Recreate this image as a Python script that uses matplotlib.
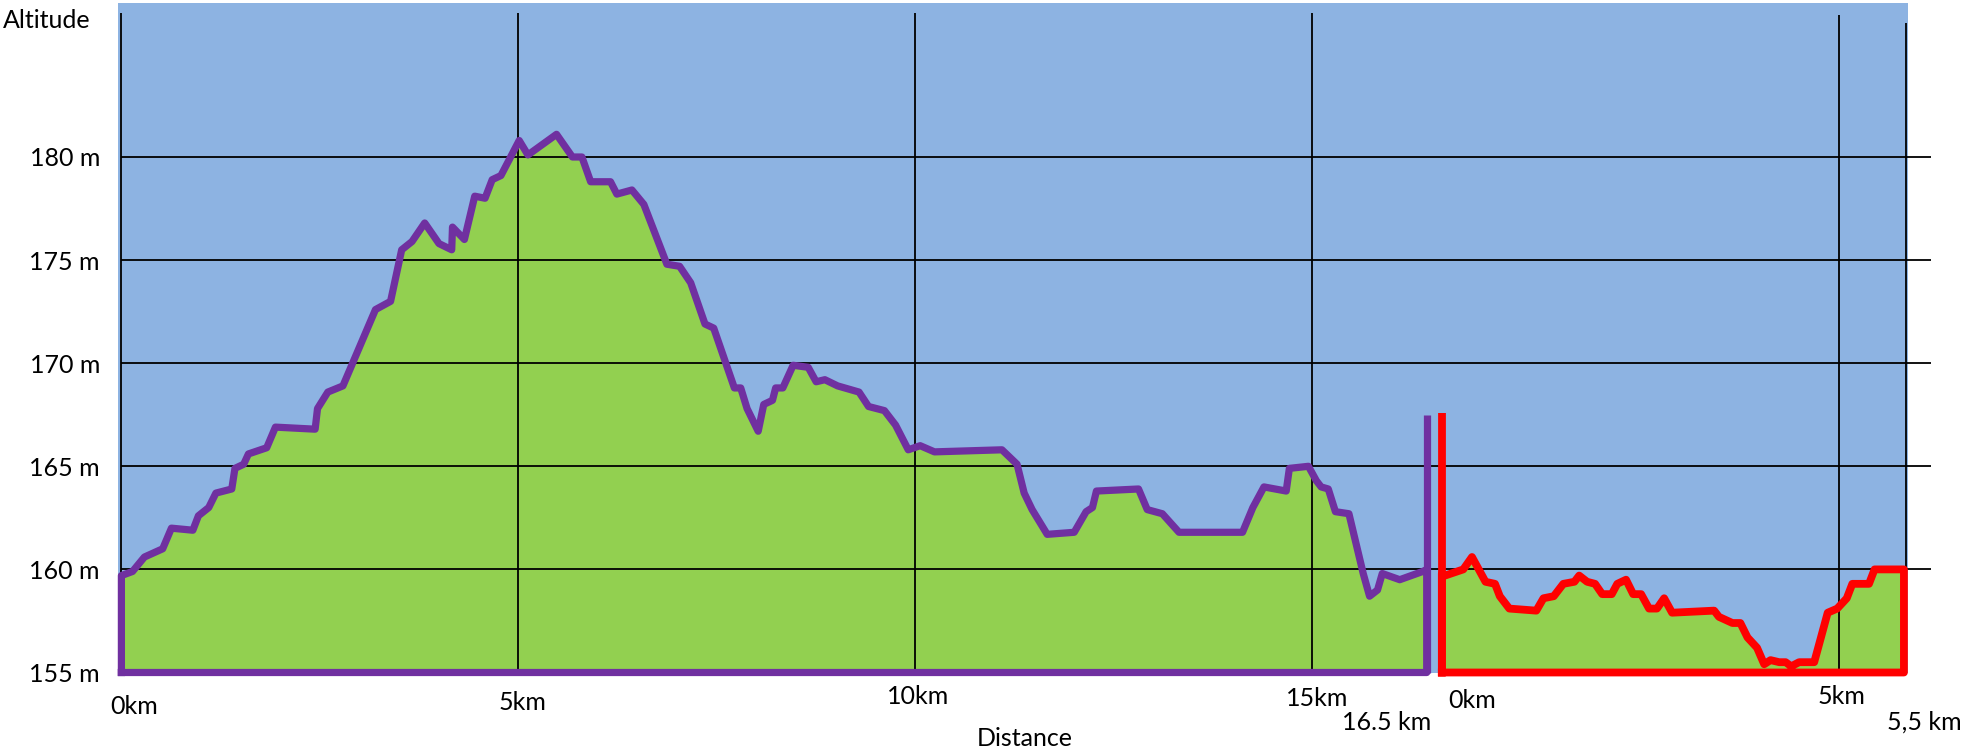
import matplotlib
matplotlib.use("Agg")
import matplotlib.pyplot as plt
import matplotlib.transforms as mtransforms

# ---------------- data ----------------
# Route 1 (purple): distance in km, altitude in m
route1_km = [0.00, 0.14, 0.29, 0.52, 0.63, 0.90, 0.97, 1.10, 1.19, 1.39, 1.43, 1.54, 1.60,
             1.83, 1.94, 2.44, 2.47, 2.60, 2.79, 3.20, 3.39, 3.53, 3.66, 3.82, 4.00, 4.16,
             4.17, 4.32, 4.45, 4.58, 4.67, 4.78, 5.01, 5.12, 5.48, 5.68, 5.80, 5.91, 6.16,
             6.24, 6.43, 6.58, 6.87, 7.03, 7.17, 7.35, 7.46, 7.72, 7.80, 7.88, 8.02, 8.09,
             8.20, 8.24, 8.33, 8.46, 8.65, 8.75, 8.86, 9.02, 9.29, 9.41, 9.61, 9.75, 9.91,
             10.06, 10.24, 11.09, 11.28, 11.37, 11.47, 11.66, 12.00, 12.15, 12.23, 12.28,
             12.81, 12.92, 13.11, 13.32, 14.12, 14.25, 14.39, 14.67, 14.71, 14.95, 15.05,
             15.11, 15.20, 15.29, 15.46, 15.64, 15.72, 15.82, 15.88, 16.10, 16.39, 16.44]
route1_alt = [159.7, 159.9, 160.6, 161.0, 162.0, 161.9, 162.6, 163.0, 163.7, 163.9, 164.9,
              165.1, 165.6, 165.9, 166.9, 166.8, 167.8, 168.6, 168.9, 172.6, 173.0, 175.5,
              175.9, 176.8, 175.8, 175.5, 176.6, 176.0, 178.1, 178.0, 178.9, 179.1, 180.8,
              180.1, 181.1, 180.0, 180.0, 178.8, 178.8, 178.2, 178.4, 177.7, 174.8, 174.7,
              173.9, 171.9, 171.7, 168.8, 168.8, 167.8, 166.7, 168.0, 168.2, 168.8, 168.8,
              169.9, 169.8, 169.1, 169.2, 168.9, 168.6, 167.9, 167.7, 167.0, 165.8, 166.0,
              165.7, 165.8, 165.1, 163.7, 162.9, 161.7, 161.8, 162.8, 163.0, 163.8, 163.9,
              162.9, 162.7, 161.8, 161.8, 163.0, 164.0, 163.8, 164.9, 165.0, 164.3, 164.0,
              163.9, 162.8, 162.7, 159.8, 158.7, 159.0, 159.8, 159.5, 159.9, 160.0]
route1_marker_top = 167.5   # top of the end bar of route 1

# Route 2 (red): distance in km from its own start, altitude in m
route2_km = [0.00, 0.04, 0.27, 0.38, 0.55, 0.67, 0.73, 0.85, 1.19, 1.28, 1.41, 1.53, 1.67,
             1.73, 1.83, 1.93, 2.02, 2.14, 2.21, 2.32, 2.41, 2.51, 2.61, 2.71, 2.80, 2.90,
             3.43, 3.49, 3.66, 3.76, 3.85, 3.97, 4.06, 4.14, 4.25, 4.33, 4.40, 4.50, 4.69,
             4.86, 4.98, 5.10, 5.17, 5.38, 5.45, 5.82]
route2_alt = [159.8, 159.7, 160.0, 160.6, 159.4, 159.3, 158.7, 158.1, 158.0, 158.6, 158.7,
              159.3, 159.4, 159.7, 159.4, 159.3, 158.8, 158.8, 159.3, 159.5, 158.8, 158.8,
              158.1, 158.1, 158.6, 157.9, 158.0, 157.7, 157.4, 157.4, 156.7, 156.2, 155.4,
              155.6, 155.5, 155.5, 155.3, 155.5, 155.5, 157.9, 158.1, 158.6, 159.3, 159.3,
              160.0, 160.0]
route2_marker_top = 167.6   # top of the start bar of route 2

base_alt = 155
y_ticks = [155, 160, 165, 170, 175, 180]
y_tick_labels = ["155 m", "160 m", "165 m", "170 m", "175 m", "180 m"]
route1_tick_km = [0, 5, 10, 15]
route1_tick_labels = ["0km", "5km", "10km", "15km"]
route1_end_label = "16.5 km"
route2_tick_km = [0, 5]
route2_tick_labels = ["0km", "5km"]
route2_end_label = "5,5 km"
x_title = "Distance"
y_title = "Altitude"

# ---------------- layout ----------------
W, H, DPI = 1962, 752, 100
BLUE = "#8DB3E2"
GREEN = "#92D050"
PURPLE = "#7030A0"
RED = "#FF0000"
FONT = ["Lato", "DejaVu Sans"]
FS = 18

route2_offset = 16.63        # drawing position of route 2 start
route2_frame_end = 5.84      # right frame line of route 2
grid_right = 22.79

plt.rcParams["font.family"] = FONT
fig = plt.figure(figsize=(W / DPI, H / DPI), dpi=DPI)
fig.patch.set_facecolor("white")

px_l, px_r, px_t, px_b = 118, 1908, 3, 673
ax = fig.add_axes([px_l / W, 1 - px_b / H, (px_r - px_l) / W, (px_b - px_t) / H])
ax.set_facecolor(BLUE)
for s in ax.spines.values():
    s.set_visible(False)

x_per_px = 1 / 79.4
ax.set_xlim((px_l - 121.4) * x_per_px, (px_r - 121.4) * x_per_px)
y_per_px = 1 / 20.62
ax.set_ylim(155 - (px_b - 672.5) * y_per_px, 155 + (672.5 - px_t) * y_per_px)

r2x = [route2_offset + d for d in route2_km]

# green fills
ax.fill_between(route1_km, route1_alt, base_alt, color=GREEN, lw=0, zorder=1)
ax.fill_between(r2x, route2_alt, base_alt, color=GREEN, lw=0, zorder=1)

# grid lines
for yv in y_ticks[1:]:
    ax.plot([0, grid_right], [yv, yv], color="black", lw=1.3, zorder=2, clip_on=False,
            solid_capstyle="butt")
vlines = [(k, 187.0) for k in route1_tick_km] + \
         [(route2_offset + k, 186.9) for k in route2_tick_km[1:]] + \
         [(route2_offset + route2_frame_end, 186.5)]
for xv, top in vlines:
    ax.plot([xv, xv], [base_alt, top], color="black", lw=1.3, zorder=2, solid_capstyle="butt")

LW1, LW2 = 5.2, 5.6
# route 1 outline
x1 = [route1_km[0]] + route1_km + [route1_km[-1], route1_km[0]]
y1 = [base_alt] + route1_alt + [base_alt, base_alt]
ax.plot(x1, y1, color=PURPLE, lw=LW1, zorder=3, clip_on=False, solid_joinstyle="round")
ax.plot([route1_km[-1]] * 2, [base_alt, route1_marker_top], color=PURPLE, lw=LW1,
        zorder=3, solid_capstyle="butt", clip_on=False)

# route 2 outline
x2 = [r2x[0]] + r2x + [r2x[-1], r2x[0]]
y2 = [base_alt] + route2_alt + [base_alt, base_alt]
ax.plot(x2, y2, color=RED, lw=LW2, zorder=3, clip_on=False, solid_joinstyle="round")
ax.plot([r2x[0]] * 2, [base_alt, route2_marker_top], color=RED, lw=LW2,
        zorder=3, solid_capstyle="butt", clip_on=False)

# y tick labels
ax.set_yticks(y_ticks)
ax.set_yticklabels(y_tick_labels, fontsize=FS)
ax.tick_params(axis="y", length=0, pad=13)
ax.set_xticks([])

# x labels (text placed under the frame)
def fy(py):
    return 1 - py / H

blend = mtransforms.blended_transform_factory(ax.transData, fig.transFigure)

r1_label_dx = [0.16, 0.05, 0.03, 0.06]
r1_label_py = [707, 703, 697, 698]
for k, lab, dx, py in zip(route1_tick_km, route1_tick_labels, r1_label_dx, r1_label_py):
    ax.text(k + dx, fy(py), lab, transform=blend, ha="center", va="center", fontsize=FS)
ax.text(15.93, fy(723), route1_end_label, transform=blend, ha="center", va="center", fontsize=FS)

r2_label_dx = [0.38, 0.03]
r2_label_py = [701, 697]
for k, lab, dx, py in zip(route2_tick_km, route2_tick_labels, r2_label_dx, r2_label_py):
    ax.text(route2_offset + k + dx, fy(py), lab, transform=blend, ha="center", va="center",
            fontsize=FS)
ax.text(route2_offset + route2_frame_end + 0.24, fy(722), route2_end_label, transform=blend,
        ha="center", va="center", fontsize=FS)

fig.text(1025 / W, fy(738), x_title, ha="center", va="center", fontsize=FS)
fig.text(3 / W, fy(21), y_title, ha="left", va="center", fontsize=FS)

fig.savefig("out.png", dpi=DPI)
